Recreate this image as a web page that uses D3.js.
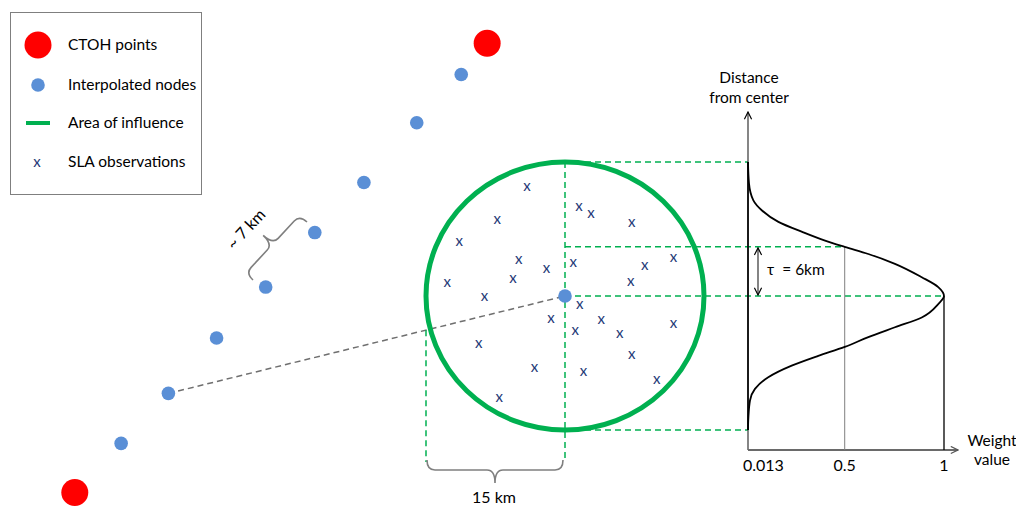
<!DOCTYPE html>
<html>
<head>
<meta charset="utf-8">
<script src="https://cdn.jsdelivr.net/npm/d3@7"></script>
<style>
  body { margin: 0; background: #fff; }
  text { font-family: Lato, "Open Sans", sans-serif; fill: #000; }
</style>
</head>
<body>
<svg id="chart" width="1016" height="508"></svg>
<script>
// map positions in km, origin = node at the centre of the circle
let ctohX = [-52.9, -8.4];
let ctohY = [-22.0, 28.3];

let nodeX = [-47.9, -42.8, -37.6, -32.3, -27.0, -21.7, -16.0, -11.2];
let nodeY = [-16.5, -10.9, -4.7, 1.0, 7.1, 12.7, 19.4, 24.8];

let slaX = [-4.1, -7.3, -11.4, -5.0, -2.0, -5.6, -12.7, -8.7, 1.5, 2.8, 7.2, 0.9, 8.6, 11.7,
            7.1, 1.6, -1.5, 3.9, 1.1, 5.9, 11.7, -9.3, 7.2, -3.3, 2.0, 9.9, -7.1];
let slaY = [12.3, 8.6, 6.1, 4.1, 3.1, 2.0, 1.6, 0.0, 10.0, 9.3, 8.3, 3.8, 3.4, 4.3,
            1.7, -0.9, -2.5, -2.6, -3.8, -4.2, -3.0, -5.3, -6.5, -8.0, -8.4, -9.3, -11.3];

let radiusKm = 15;
let halfKm = 5.5;   // where the weight crosses 0.5

// weight curve
let distKm = [15, 12.6, 10.7, 9.6, 8.3, 7.2, 6.2, 5.5, 4.7, 3.6, 2.1, 1.0, 0,
              -0.9, -2.4, -3.5, -4.6, -5.7, -6.7, -7.8, -9.1, -10.4, -11.7, -13.6, -15];
let weight = [0.013, 0.018, 0.04, 0.082, 0.166, 0.283, 0.401, 0.5, 0.619, 0.753, 0.888, 0.971, 1,
              0.971, 0.888, 0.753, 0.619, 0.5, 0.367, 0.233, 0.115, 0.048, 0.023, 0.015, 0.013];

let weightTicks = [0.013, 0.5, 1];
let weightLabels = ["0.013", "0.5", "1"];

let legendKeys = ["CTOH points", "Interpolated nodes", "Area of influence", "SLA observations"];

const red = "#ff0000";
const blue = "#5a8fd6";
const green = "#00b050";
const navy = "#1f3a78";
const grey = "#7f7f7f";
const fs = "15.5px";

const svg = d3.select("#chart");

let xMap = d3.scaleLinear().domain([-radiusKm, radiusKm]).range([426, 704]);
let yMap = d3.scaleLinear().domain([-radiusKm, radiusKm]).range([430, 162]);
let xW = d3.scaleLinear().domain([0.013, 1]).range([748, 944]);
let axisY = 450;

// arrow markers
let defs = svg.append("defs");
function marker(id, color) {
  defs.append("marker")
    .attr("id", id)
    .attr("viewBox", "0 0 10 10")
    .attr("refX", 9).attr("refY", 5)
    .attr("markerWidth", 9).attr("markerHeight", 9)
    .attr("markerUnits", "userSpaceOnUse")
    .attr("orient", "auto-start-reverse")
    .append("path")
    .attr("d", "M1,1 L9,5 L1,9")
    .attr("fill", "none")
    .attr("stroke", color)
    .attr("stroke-width", 1.3);
}
marker("arrBlack", "#000");
marker("arrGrey", "#555");

// legend
svg.append("rect")
  .attr("x", 10.5).attr("y", 12.5)
  .attr("width", 191).attr("height", 182)
  .attr("fill", "none").attr("stroke", grey).attr("stroke-width", 1);

let legY = [45, 85, 123, 162];
svg.append("circle").attr("cx", 38).attr("cy", legY[0]).attr("r", 13.5).attr("fill", red);
svg.append("circle").attr("cx", 38).attr("cy", legY[1]).attr("r", 6.8).attr("fill", blue);
svg.append("line").attr("x1", 26).attr("x2", 50).attr("y1", legY[2]).attr("y2", legY[2])
  .attr("stroke", green).attr("stroke-width", 4);
svg.append("text").attr("x", 37).attr("y", legY[3]).attr("dy", "0.32em")
  .attr("text-anchor", "middle").style("fill", navy).style("font-size", "15px").text("x");

svg.selectAll("legText")
  .data(legendKeys)
  .enter()
  .append("text")
  .attr("x", 68)
  .attr("y", (d, i) => legY[i])
  .attr("dy", "0.35em")
  .style("font-size", fs)
  .text(d => d);

// dashed grey line from a node to the centre
let from = [nodeX[1], nodeY[1]];
svg.append("line")
  .attr("x1", xMap(from[0])).attr("y1", yMap(from[1]))
  .attr("x2", xMap(0)).attr("y2", yMap(0))
  .attr("stroke", "#6f6f6f").attr("stroke-width", 1.5)
  .attr("stroke-dasharray", "6,4");

// green dashed guides
let cutY = from[1] * (-radiusKm / from[0]);   // where the grey line crosses the left edge
let guides = [
  [xMap(0), yMap(radiusKm), xW(0.013), yMap(radiusKm)],
  [xMap(0), yMap(-radiusKm), xW(0.013), yMap(-radiusKm)],
  [xMap(0), yMap(halfKm), xW(0.5), yMap(halfKm)],
  [xMap(0), yMap(0), xW(1), yMap(0)],
  [xMap(0), yMap(radiusKm), xMap(0), 462],
  [xMap(-radiusKm), yMap(cutY), xMap(-radiusKm), 462]
];
svg.append("g").selectAll("line")
  .data(guides)
  .join("line")
  .attr("x1", d => d[0]).attr("y1", d => d[1])
  .attr("x2", d => d[2]).attr("y2", d => d[3])
  .attr("stroke", green).attr("stroke-width", 1.5)
  .attr("stroke-dasharray", "6,4");

// area of influence
svg.append("ellipse")
  .attr("cx", xMap(0)).attr("cy", yMap(0))
  .attr("rx", xMap(radiusKm) - xMap(0))
  .attr("ry", yMap(0) - yMap(radiusKm))
  .attr("fill", "none").attr("stroke", green).attr("stroke-width", 5);

// SLA observations
svg.append("g").selectAll("text")
  .data(slaX)
  .join("text")
  .attr("x", d => xMap(d))
  .attr("y", (d, i) => yMap(slaY[i]))
  .attr("dy", "0.32em")
  .attr("text-anchor", "middle")
  .style("fill", navy).style("font-size", "15px")
  .text("x");

// nodes
svg.append("g").selectAll("circle")
  .data(nodeX)
  .join("circle")
  .attr("cx", d => xMap(d))
  .attr("cy", (d, i) => yMap(nodeY[i]))
  .attr("r", 6.8)
  .attr("fill", blue);
svg.append("circle").attr("cx", xMap(0)).attr("cy", yMap(0)).attr("r", 6.8).attr("fill", blue);

svg.append("g").selectAll("circle")
  .data(ctohX)
  .join("circle")
  .attr("cx", d => xMap(d))
  .attr("cy", (d, i) => yMap(ctohY[i]))
  .attr("r", 13.5)
  .attr("fill", red);

// curly braces
function brace(x1, y1, x2, y2, h1, h2) {
  let L = Math.hypot(x2 - x1, y2 - y1);
  let a = Math.atan2(y2 - y1, x2 - x1) * 180 / Math.PI;
  let r = 8, m = L / 2;
  let p = `M0,0 Q0,${h1} ${r},${h1} L${m - r},${h1} Q${m},${h1} ${m},${h2}` +
          ` M${L},0 Q${L},${h1} ${L - r},${h1} L${m + r},${h1} Q${m},${h1} ${m},${h2}`;
  svg.append("path")
    .attr("d", p)
    .attr("transform", `translate(${x1},${y1}) rotate(${a})`)
    .attr("fill", "none").attr("stroke", grey).attr("stroke-width", 1.6);
}
brace(xMap(-radiusKm) + 1, 460, xMap(0) - 2, 460, 10, 23);
brace(307, 222, 253, 280, 10, 23);

svg.append("text").attr("x", 494).attr("y", 497).attr("dy", "0.35em")
  .attr("text-anchor", "middle").style("font-size", "16px").text("15 km");
svg.append("text")
  .attr("transform", "translate(246,229) rotate(-47)")
  .attr("dy", "0.35em")
  .attr("text-anchor", "middle").style("font-size", "16px").text("~ 7 km");

// weight plot
let ax = xW(0.013);
svg.append("line").attr("x1", ax).attr("x2", ax).attr("y1", axisY).attr("y2", 112)
  .attr("stroke", "#444").attr("stroke-width", 1.3).attr("marker-end", "url(#arrBlack)");
svg.append("line").attr("x1", ax).attr("x2", ax).attr("y1", yMap(-radiusKm)).attr("y2", yMap(radiusKm))
  .attr("stroke", "#000").attr("stroke-width", 1.6);
svg.append("line").attr("x1", ax).attr("x2", 958).attr("y1", axisY).attr("y2", axisY)
  .attr("stroke", "#6a6a6a").attr("stroke-width", 1.8).attr("marker-end", "url(#arrGrey)");

svg.append("line").attr("x1", xW(0.5)).attr("x2", xW(0.5)).attr("y1", yMap(halfKm)).attr("y2", axisY)
  .attr("stroke", grey).attr("stroke-width", 1);
svg.append("line").attr("x1", xW(1)).attr("x2", xW(1)).attr("y1", yMap(0)).attr("y2", axisY)
  .attr("stroke", "#000").attr("stroke-width", 1.3);

let curve = d3.line()
  .x((d, i) => xW(weight[i]))
  .y(d => yMap(d))
  .curve(d3.curveMonotoneY);
svg.append("path")
  .attr("d", curve(distKm))
  .attr("fill", "none").attr("stroke", "#000").attr("stroke-width", 1.8);

svg.selectAll("tickLab")
  .data(weightTicks)
  .enter()
  .append("text")
  .attr("x", (d, i) => i == 0 ? xW(d) - 5 : xW(d))
  .attr("y", 465)
  .attr("dy", "0.35em")
  .attr("text-anchor", (d, i) => i == 0 ? "start" : "middle")
  .style("font-size", "16px")
  .text((d, i) => weightLabels[i]);

svg.append("text").attr("x", 749).attr("y", 78).attr("dy", "0.35em")
  .attr("text-anchor", "middle").style("font-size", fs).text("Distance");
svg.append("text").attr("x", 749).attr("y", 98).attr("dy", "0.35em")
  .attr("text-anchor", "middle").style("font-size", fs).text("from center");
svg.append("text").attr("x", 992).attr("y", 441).attr("dy", "0.35em")
  .attr("text-anchor", "middle").style("font-size", fs).text("Weight");
svg.append("text").attr("x", 992).attr("y", 460).attr("dy", "0.35em")
  .attr("text-anchor", "middle").style("font-size", fs).text("value");

// tau arrow
svg.append("line").attr("x1", 758).attr("x2", 758).attr("y1", yMap(halfKm) + 1).attr("y2", yMap(0) - 1)
  .attr("stroke", "#333").attr("stroke-width", 1.2)
  .attr("marker-start", "url(#arrBlack)").attr("marker-end", "url(#arrBlack)");
svg.append("text").attr("x", 767).attr("y", 270).attr("dy", "0.35em")
  .style("font-size", fs).text("τ  = 6km").attr("xml:space", "preserve");
</script>
</body>
</html>
